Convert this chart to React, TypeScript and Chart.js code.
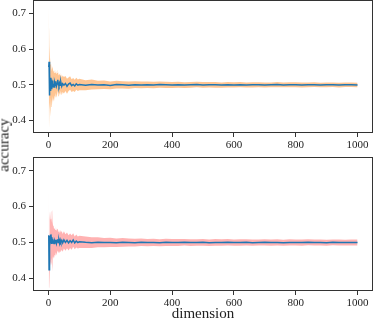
import React, { useEffect, useRef } from 'react';
import { Chart, registerables } from 'chart.js';
Chart.register(...registerables);

const dims = [1,2,3,4,5,6,7,8,9,10,11,12,13,14,15,16,18,20,22,24,26,28,30,32,34,36,38,40,43,46,50,55,60,65,70,75,80,85,90,95,100,120,140,160,180,200,220,240,260,280,300,320,340,360,380,400,420,440,460,480,500,520,540,560,580,600,620,640,660,680,700,720,740,760,780,800,820,840,860,880,900,920,940,960,980,1000];

const topMean = [0.550,0.565,0.470,0.530,0.485,0.515,0.492,0.520,0.497,0.508,0.488,0.505,0.498,0.512,0.495,0.503,0.494,0.506,0.499,0.510,0.497,0.503,0.514,0.502,0.497,0.505,0.499,0.508,0.496,0.503,0.499,0.504,0.496,0.502,0.505,0.498,0.501,0.497,0.503,0.499,0.501,
  0.4990,0.5010,0.4995,0.5005,0.4985,0.5008,0.5000,0.4992,0.5006,0.4997,0.5003,0.4994,0.5007,0.5001,0.4996,0.5004,0.4993,0.5000,0.5009,0.4997,0.5002,0.5000,0.4994,0.5005,0.4999,0.5006,0.4996,0.5001,0.5004,0.4995,0.5000,0.5007,0.4998,0.5001,0.5003,0.4996,0.5000,0.5006,0.4997,0.5001,0.5004,0.4995,0.5000,0.5003,0.4999];

const topStd = [0.170,0.090,0.095,0.080,0.074,0.066,0.063,0.057,0.055,0.050,0.050,0.046,0.046,0.043,0.043,0.040,0.039,0.036,0.035,0.033,0.033,0.030,0.030,0.028,0.029,0.027,0.027,0.025,0.025,0.023,0.023,0.021,0.021,0.019,0.019,0.018,0.018,0.017,0.017,0.016,0.016,0.014,0.014,0.012,0.012,0.011,0.011,0.010,0.010,0.0095,0.0095,0.009,0.009,0.0085,0.0088,0.0082,0.0085,0.008,0.0082,0.0078,0.008,0.0076,0.0078,0.0074,0.0076,0.0072,0.0075,0.0071,0.0073,0.007,0.0072,0.0069,0.0071,0.0068,0.007,0.0067,0.0069,0.0066,0.0068,0.0065,0.0067,0.0064,0.0066,0.0063,0.0065,0.0063];

const bottomMean = [0.520,0.424,0.510,0.488,0.518,0.500,0.522,0.505,0.512,0.496,0.515,0.505,0.497,0.510,0.500,0.506,0.497,0.504,0.499,0.508,0.498,0.505,0.509,0.500,0.506,0.498,0.507,0.501,0.506,0.499,0.507,0.500,0.506,0.499,0.505,0.500,0.507,0.499,0.504,0.500,0.502,
  0.5005,0.4995,0.5008,0.4998,0.5003,0.4992,0.5004,0.5000,0.4996,0.5006,0.4999,0.5002,0.4994,0.5005,0.5001,0.4997,0.5007,0.4998,0.5000,0.5004,0.4995,0.5002,0.4999,0.5006,0.4997,0.5001,0.5004,0.4996,0.5000,0.5005,0.4998,0.5002,0.4995,0.5003,0.5000,0.4997,0.5006,0.4999,0.5001,0.4996,0.5004,0.5000,0.4998,0.5003,0.5000];

const bottomStd = [0.145,0.050,0.080,0.075,0.070,0.065,0.060,0.058,0.055,0.060,0.070,0.085,0.055,0.048,0.046,0.044,0.041,0.038,0.036,0.035,0.034,0.032,0.031,0.030,0.030,0.028,0.028,0.027,0.026,0.025,0.024,0.023,0.022,0.021,0.020,0.020,0.019,0.018,0.018,0.017,0.017,0.016,0.015,0.014,0.013,0.013,0.012,0.012,0.011,0.011,0.0105,0.010,0.0102,0.0098,0.010,0.0095,0.0097,0.0093,0.0095,0.0091,0.0093,0.009,0.0092,0.0089,0.0091,0.0088,0.009,0.0087,0.0089,0.0086,0.0088,0.0085,0.0087,0.0085,0.0086,0.0084,0.0086,0.0083,0.0085,0.0083,0.0084,0.0082,0.0084,0.0082,0.0083,0.0082];

const xTicks = [0, 200, 400, 600, 800, 1000];
const xTickLabels = ['0', '200', '400', '600', '800', '1000'];
const yTicks = [0.4, 0.5, 0.6, 0.7];
const yTickLabels = ['0.4', '0.5', '0.6', '0.7'];

const FONT = "'Liberation Serif', 'DejaVu Serif', serif";

const framePlugin = {
  id: 'frame',
  afterDraw(chart: any) {
    const { ctx, chartArea: a } = chart;
    ctx.save();
    ctx.strokeStyle = '#333';
    ctx.lineWidth = 1;
    ctx.strokeRect(Math.round(a.left) + 0.5, Math.round(a.top) + 0.5, Math.round(a.right - a.left) - 1, Math.round(a.bottom - a.top) - 1);
    ctx.restore();
  },
};

function makeConfig(mean: number[], std: number[], band: string, xAxisHeight: number, padTop: number): any {
  const line = dims.map((d, i) => ({ x: d, y: mean[i] }));
  const lower = dims.map((d, i) => ({ x: d, y: mean[i] - std[i] }));
  const upper = dims.map((d, i) => ({ x: d, y: mean[i] + std[i] }));
  return {
    type: 'line',
    data: {
      datasets: [
        { data: line, borderColor: '#1f77b4', borderWidth: 1.5, pointRadius: 0, fill: false, tension: 0 },
        { data: lower, borderWidth: 0, borderColor: 'rgba(0,0,0,0)', pointRadius: 0, fill: false },
        { data: upper, borderWidth: 0, borderColor: 'rgba(0,0,0,0)', pointRadius: 0, fill: '-1', backgroundColor: band },
      ],
    },
    options: {
      animation: false,
      responsive: false,
      events: [],
      layout: { padding: { left: 0, right: 1, top: padTop, bottom: 0 } },
      plugins: { legend: { display: false }, tooltip: { enabled: false } },
      scales: {
        x: {
          type: 'linear',
          min: -50,
          max: 1050,
          afterBuildTicks: (s: any) => { s.ticks = xTicks.map((v) => ({ value: v })); },
          afterFit: (s: any) => { s.height = xAxisHeight; s.paddingLeft = 0; s.paddingRight = 0; s.paddingTop = 0; s.paddingBottom = 0; },
          grid: { drawOnChartArea: false, drawTicks: true, tickLength: 4, color: '#333' },
          border: { display: false },
          ticks: {
            callback: (_v: any, i: number) => xTickLabels[i],
            font: { family: FONT, size: 11 },
            color: '#222',
            padding: 2,
            maxRotation: 0,
            autoSkip: false,
          },
        },
        y: {
          type: 'linear',
          min: 0.365,
          max: 0.738,
          afterBuildTicks: (s: any) => { s.ticks = yTicks.map((v) => ({ value: v })); },
          afterFit: (s: any) => { s.width = 33; s.paddingLeft = 0; s.paddingRight = 0; s.paddingTop = 0; s.paddingBottom = 0; },
          grid: { drawOnChartArea: false, drawTicks: true, tickLength: 4, color: '#333' },
          border: { display: false },
          ticks: {
            callback: (_v: any, i: number) => yTickLabels[i],
            font: { family: FONT, size: 11 },
            color: '#222',
            padding: 3,
          },
        },
      },
    },
    plugins: [framePlugin],
  };
}

export default function App() {
  const topRef = useRef<HTMLCanvasElement>(null);
  const botRef = useRef<HTMLCanvasElement>(null);

  useEffect(() => {
    const c1 = new Chart(topRef.current as HTMLCanvasElement, makeConfig(topMean, topStd, 'rgba(255,127,14,0.45)', 23, 0));
    const c2 = new Chart(botRef.current as HTMLCanvasElement, makeConfig(bottomMean, bottomStd, 'rgba(255,0,0,0.3)', 30, 1));
    return () => { c1.destroy(); c2.destroy(); };
  }, []);

  return (
    <div style={{ position: 'fixed', left: 0, top: 0, width: 374, height: 321, background: '#fff', overflow: 'hidden' }}>
      <canvas ref={topRef} width={374} height={156} style={{ position: 'absolute', left: 0, top: 0, width: 374, height: 156 }} />
      <canvas ref={botRef} width={374} height={165} style={{ position: 'absolute', left: 0, top: 156, width: 374, height: 165 }} />
      <div style={{ position: 'absolute', left: 4, top: 145, transform: 'translate(-50%, -50%) rotate(-90deg)', fontFamily: FONT, fontSize: 15, lineHeight: 1, whiteSpace: 'nowrap', color: '#222' }}>accuracy</div>
      <div style={{ position: 'absolute', left: 203, top: 306, transform: 'translateX(-50%)', fontFamily: FONT, fontSize: 15, lineHeight: 1, whiteSpace: 'nowrap', color: '#222' }}>dimension</div>
    </div>
  );
}
